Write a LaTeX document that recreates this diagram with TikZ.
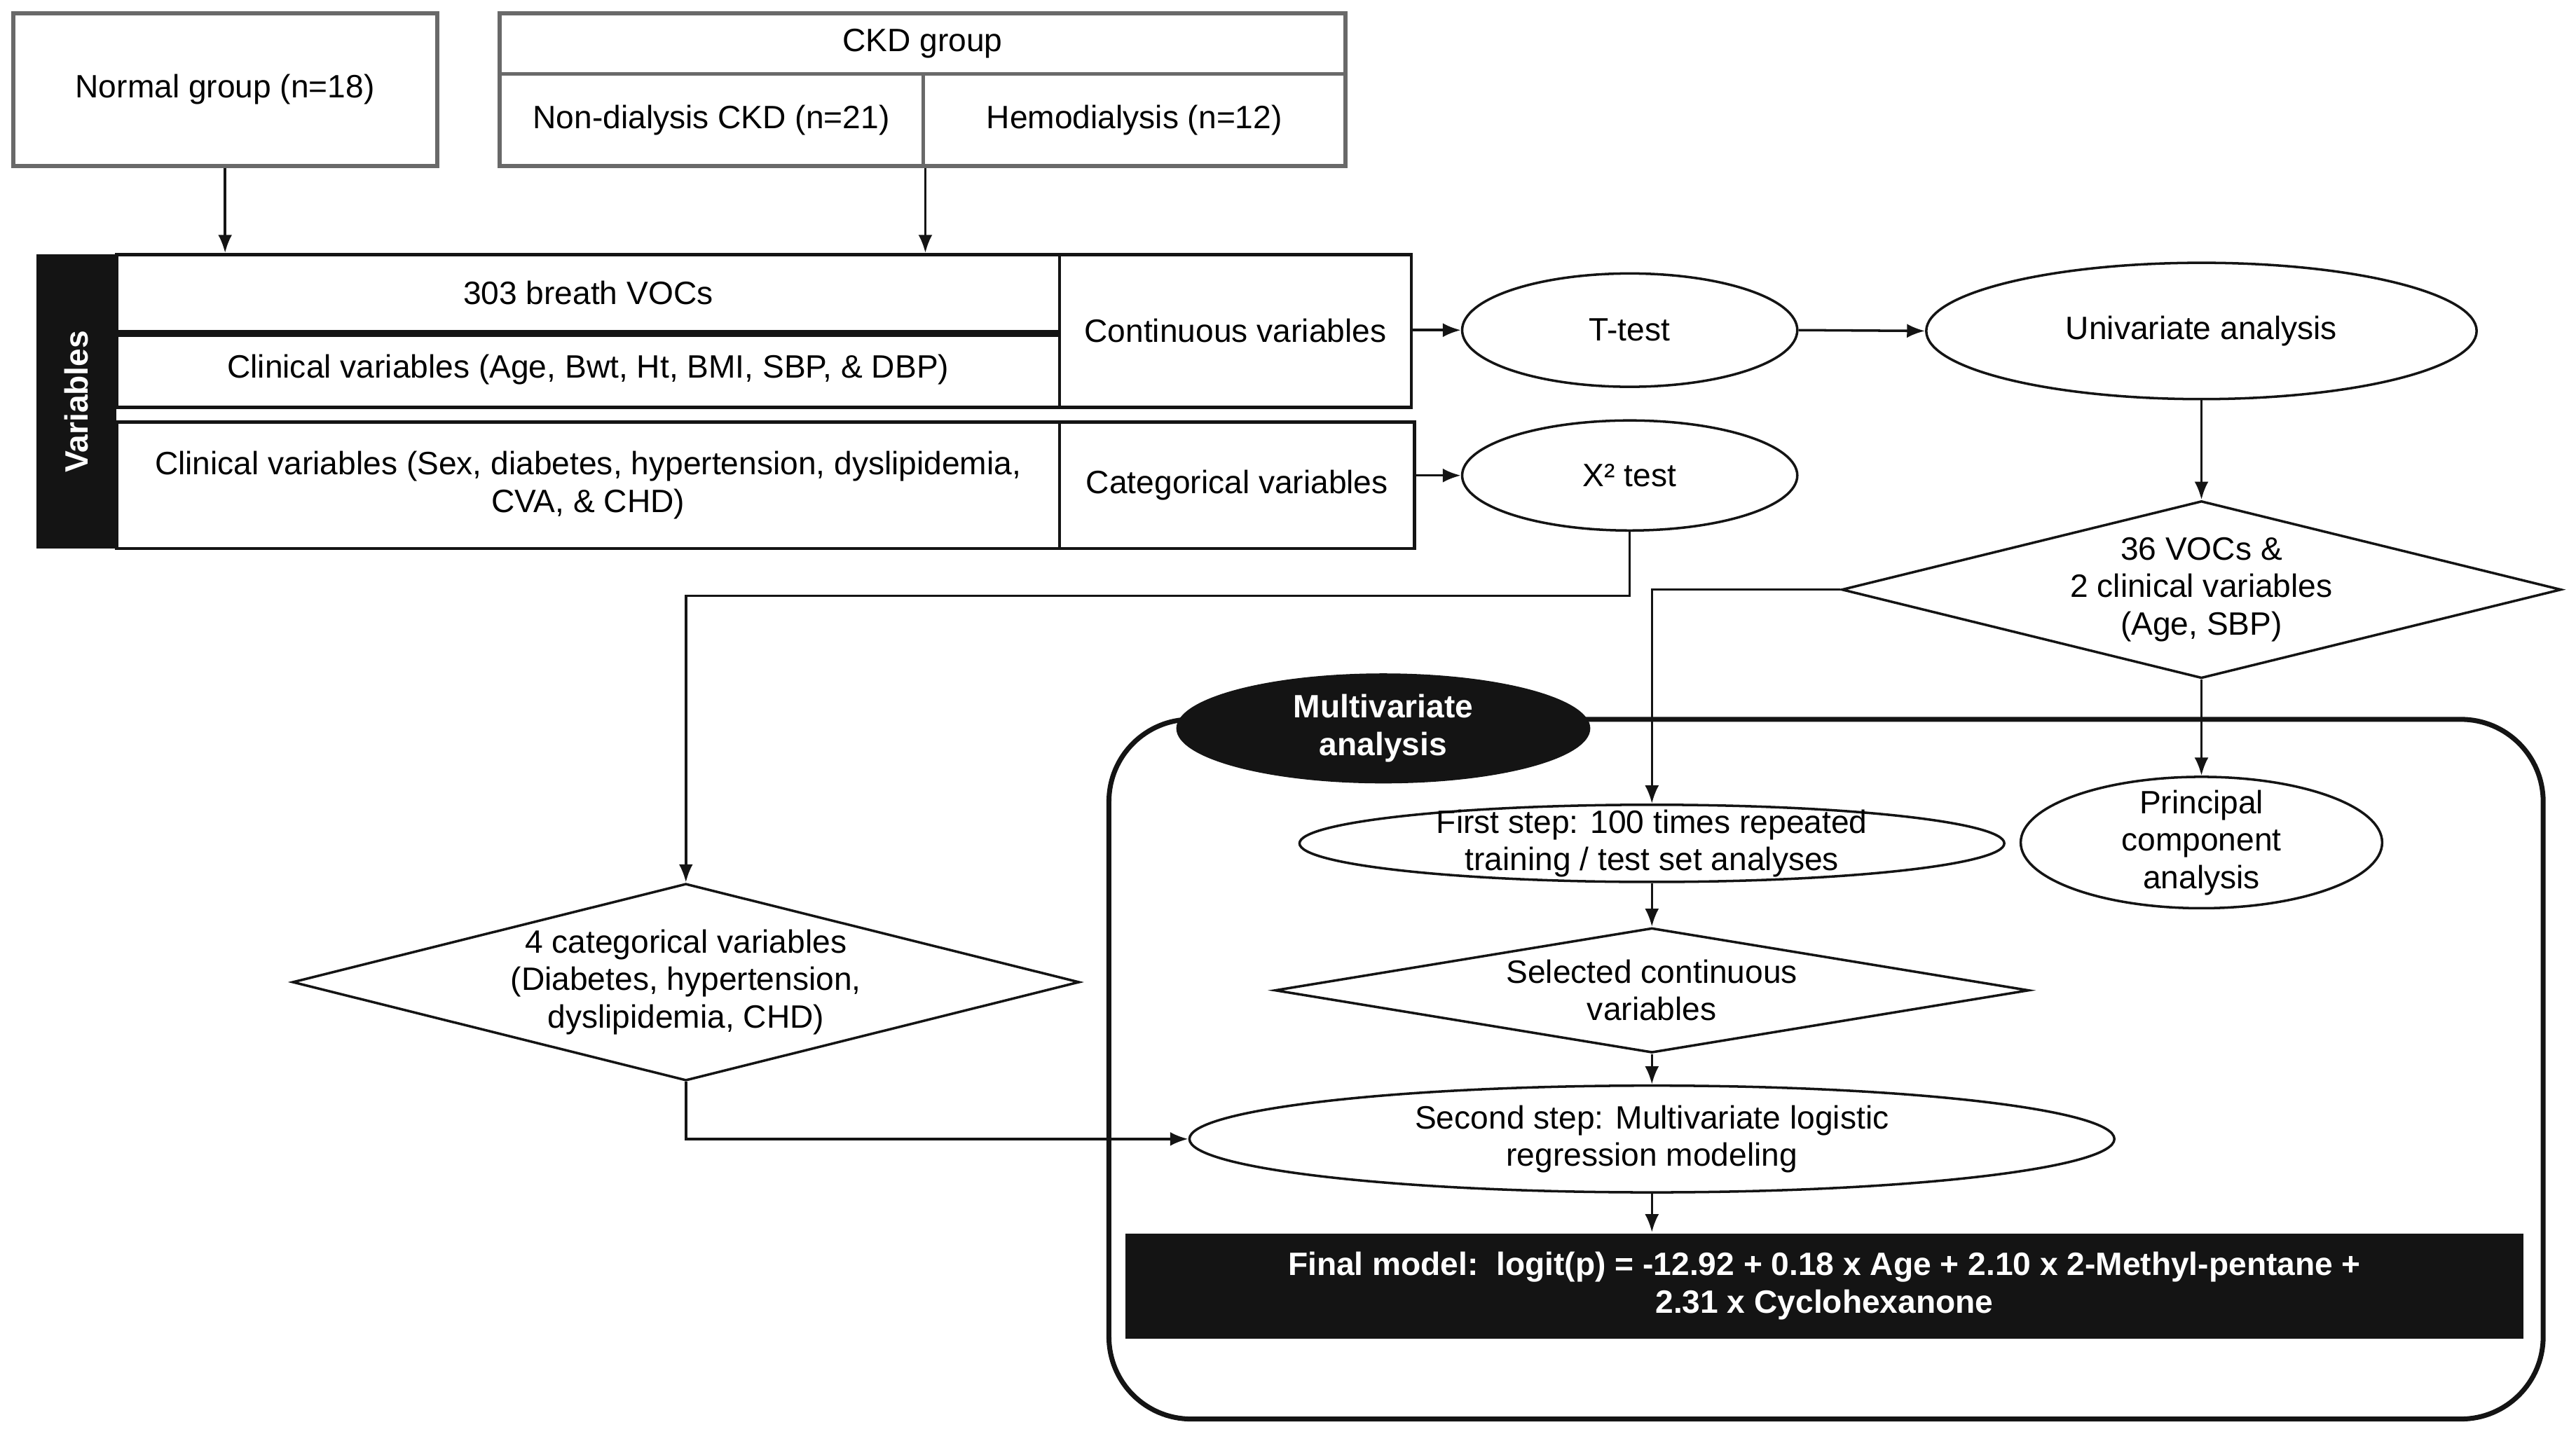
\documentclass[tikz,border=0pt]{standalone}
\usepackage{fontspec}
\setmainfont{Liberation Sans}
\usetikzlibrary{positioning, arrows.meta, shapes.geometric, calc}
\definecolor{ink}{RGB}{20,20,20}
\definecolor{rule}{RGB}{105,105,105}

\begin{document}
\begin{tikzpicture}[
  x=1mm, y=1mm,
  font=\fontsize{5.6}{6.5}\selectfont,
  box/.style={draw=rule, line width=0.25mm, inner sep=0pt, align=center},
  cell/.style={draw=ink, line width=0.2mm, inner sep=0pt, align=center},
  oval/.style={ellipse, draw=ink, line width=0.15mm, inner sep=0pt, align=center},
  dia/.style={diamond, draw=ink, line width=0.15mm, inner sep=0pt, align=center},
  blk/.style={fill=ink, text=white, font=\fontsize{5.6}{6.5}\selectfont\bfseries,
              inner sep=0pt, align=center},
  arr/.style={-{Latex[length=1.1mm,width=0.85mm]}, draw=ink, line width=0.15mm}]

  \useasboundingbox (0,0) rectangle (156.8,-87.7);

  % groups
  \node[box, minimum width=25.8mm, minimum height=9.3mm] (normal) at (13.7,-5.45) {Normal group (n=18)};
  \node[box, minimum width=51.5mm, minimum height=3.7mm] (ckdhead) at (56.15,-2.65) {CKD group};
  \node[box, minimum width=25.8mm, minimum height=5.6mm] (nondial) at (43.3,-7.3) {Non-dialysis CKD (n=21)};
  \node[box, minimum width=25.7mm, minimum height=5.6mm] (hemo) at (69.05,-7.3) {Hemodialysis (n=12)};

  % variables table
  \node[blk, minimum width=4.9mm, minimum height=17.9mm] (varbar) at (4.65,-24.45) {\rotatebox{90}{Variables}};
  \node[cell, minimum width=57.4mm, minimum height=4.7mm] (voc) at (35.8,-17.85) {303 breath VOCs};
  \node[cell, minimum width=57.4mm, minimum height=4.6mm] (clincont) at (35.8,-22.5) {Clinical variables (Age, Bwt, Ht, BMI, SBP, \& DBP)};
  \node[cell, minimum width=21.4mm, minimum height=9.3mm] (contvar) at (75.2,-20.15) {Continuous variables};
  \node[cell, minimum width=57.4mm, minimum height=7.7mm] (clincat) at (35.8,-29.55) {Clinical variables (Sex, diabetes, hypertension, dyslipidemia,\\CVA, \& CHD)};
  \node[cell, minimum width=21.6mm, minimum height=7.7mm] (catvar) at (75.3,-29.55) {Categorical variables};
  \draw[ink, line width=0.4mm] (voc.south west) -- (voc.south east);

  % univariate part
  \node[oval, minimum width=20.4mm, minimum height=6.9mm] (ttest) at (99.2,-20.1) {T-test};
  \node[oval, minimum width=33.5mm, minimum height=8.3mm] (univ) at (134.0,-20.15) {Univariate analysis};
  \node[oval, minimum width=20.4mm, minimum height=6.7mm] (chi) at (99.2,-28.95) {X² test};
  \node[dia, aspect=4, minimum width=43.8mm, minimum height=10.8mm] (sel36) at (134.0,-35.9) {36 VOCs \&\\2 clinical variables\\(Age, SBP)};
  \node[dia, aspect=4, minimum width=47.9mm, minimum height=12mm] (cat4) at (41.75,-59.8) {4 categorical variables\\(Diabetes, hypertension,\\dyslipidemia, CHD)};

  % multivariate part
  \node[draw=ink, line width=0.3mm, rounded corners=5mm, minimum width=87.3mm, minimum height=42.6mm] (multibox) at (111.15,-65.1) {};
  \node[blk, ellipse, minimum width=25.2mm, minimum height=6.7mm] (multi) at (84.2,-44.35) {Multivariate\\analysis};
  \node[oval, inner ysep=-1mm, minimum width=42.9mm, minimum height=4.7mm] (first) at (100.55,-51.35) {First step: 100 times repeated\\training / test set analyses};
  \node[oval, inner ysep=-1.6mm, minimum width=22mm, minimum height=8mm] (pca) at (134.0,-51.3) {Principal\\component\\analysis};
  \node[dia, aspect=6, minimum width=45.9mm, minimum height=7.6mm] (selcont) at (100.55,-60.3) {Selected continuous\\variables};
  \node[oval, inner ysep=-0.5mm, minimum width=56.3mm, minimum height=6.5mm] (second) at (100.55,-69.35) {Second step: Multivariate logistic\\regression modeling};
  \node[blk, minimum width=85.1mm, minimum height=6.4mm] (final) at (111.05,-78.3) {Final model:\ \ logit(p) = -12.92 + 0.18 x Age + 2.10 x 2-Methyl-pentane +\\2.31 x Cyclohexanone};

  % connectors
  \draw[arr] (normal.south) -- (normal.south |- voc.north);
  \draw[arr] (nondial.south east) -- (nondial.south east |- voc.north);
  \draw[arr] (contvar.east |- ttest.west) -- (ttest.west);
  \draw[arr] (ttest.east) -- (univ.west);
  \draw[arr] (catvar.east |- chi.west) -- (chi.west);
  \draw[arr] (univ.south) -- (sel36.north);
  \draw[arr] (sel36.south) -- (pca.north);
  \draw[arr] (sel36.west) -| (first.north);
  \draw[arr] (chi.south) -- ++(0,-3.9) -| (cat4.north);
  \draw[arr] (cat4.south) |- (second.west);
  \draw[arr] (first.south) -- (selcont.north);
  \draw[arr] (selcont.south) -- (second.north);
  \draw[arr] (second.south) -- (second.south |- final.north);
\end{tikzpicture}
\end{document}
